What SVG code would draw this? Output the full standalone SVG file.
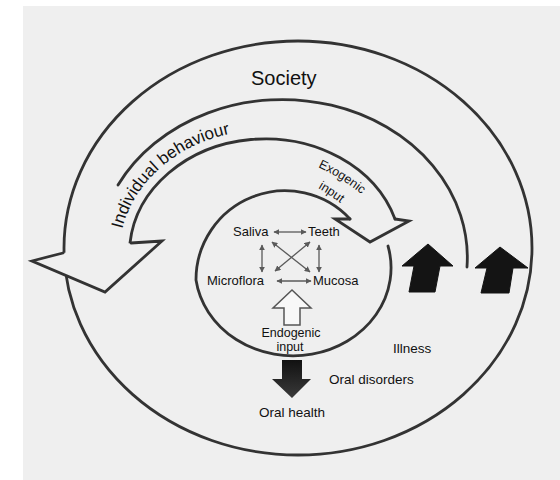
<svg xmlns="http://www.w3.org/2000/svg" width="560" height="480" viewBox="0 0 560 480">
<style>
.ln{fill:none;stroke:#333;stroke-width:2.8;stroke-linecap:round;stroke-linejoin:miter}
.t{font-family:"Liberation Sans",Arial,sans-serif;fill:#111}
.sm{fill:none;stroke:#5a5a5a;stroke-width:1.3;marker-start:url(#ah);marker-end:url(#ah)}
.blk{fill:#141414;stroke:#141414;stroke-width:1}
</style>
<defs>
<marker id="ah" viewBox="0 0 10 10" refX="9" refY="5" markerWidth="6" markerHeight="6" markerUnits="userSpaceOnUse" orient="auto-start-reverse">
<path d="M0,0 L10,5 L0,10 z" fill="#5a5a5a"/>
</marker>
<linearGradient id="dg" x1="0" y1="0" x2="0" y2="1">
<stop offset="0" stop-color="#111"/>
<stop offset="1" stop-color="#3a3a3a"/>
</linearGradient>
<path id="ibPath" d="M122.2,229 A146,125 0 0 1 376.8,174.7"/>
<path id="exPath" d="M318,167 A214,214 0 0 1 381,212"/>
<path id="inPath" d="M318,188 A214,214 0 0 1 364,224"/>
</defs>
<rect x="0" y="0" width="560" height="480" fill="#ffffff"/>
<rect x="23" y="6" width="537" height="474" fill="#efefef"/>

<g id="rings">
<ellipse id="society-ring" class="ln" cx="298" cy="248" rx="234" ry="207"/>
<path id="behaviour-outer" class="ln" d="M118,185 A185,158 0 0 1 467,267"/>
<path id="behaviour-inner" class="ln" d="M130,243 A136,115 0 0 1 395,219"/>
<path id="mouth-spiral" class="ln" d="M350,219 A89,89 0 0 0 196,280 A98,88 0 1 0 388,246"/>
</g>

<g id="connectors">
<g id="behaviour-arrowhead">
<polygon points="63,253 32,261 105,292 162,241 131,243" fill="#efefef"/>
<polyline class="ln" points="63,253 32,261 105,292 162,241 131,243"/>
</g>
<polyline id="exogenic-arrowhead" class="ln" points="350,219 335,219 370,242 409,221 395,219"/>
<polygon id="up-arrow-1" class="blk" points="428,244 453,266 440,266 435,292 409,292 414,266 402,266"/>
<polygon id="up-arrow-2" class="blk" points="500,247 528,268 513,268 509,293 481,293 487,268 475,268"/>
<polygon id="down-arrow" fill="url(#dg)" points="282,360 302,360 302,379 311,379 292,398 272,379 282,379"/>
<polygon id="endogenic-arrow" fill="#f8f8f8" stroke="#555" stroke-width="1.5" points="292,290 311,308 300,308 300,325 284,325 284,308 273,308"/>
<line class="sm" x1="274" y1="232" x2="306" y2="232"/>
<line class="sm" x1="277" y1="281" x2="311" y2="281"/>
<line class="sm" x1="262" y1="245" x2="262" y2="272"/>
<line class="sm" x1="319" y1="245" x2="319" y2="272"/>
<line class="sm" x1="272" y1="242" x2="310" y2="272"/>
<line class="sm" x1="310" y1="242" x2="275" y2="271"/>
</g>

<g id="society"><text class="t" x="251" y="85" font-size="20">Society</text></g>
<g id="individual-behaviour"><text class="t" font-size="17"><textPath href="#ibPath">Individual behaviour</textPath></text></g>
<g id="exogenic-input">
<text class="t" font-size="12.5"><textPath href="#exPath">Exogenic</textPath></text>
<text class="t" font-size="12.5"><textPath href="#inPath">input</textPath></text>
</g>
<g id="saliva"><text class="t" x="233" y="236" font-size="13">Saliva</text></g>
<g id="teeth"><text class="t" x="308" y="236" font-size="13">Teeth</text></g>
<g id="microflora"><text class="t" x="207" y="285" font-size="13">Microflora</text></g>
<g id="mucosa"><text class="t" x="313" y="285" font-size="13">Mucosa</text></g>
<g id="endogenic-input">
<text class="t" x="291" y="337" font-size="12.5" text-anchor="middle">Endogenic</text>
<text class="t" x="290" y="351" font-size="12.5" text-anchor="middle">input</text>
</g>
<g id="illness"><text class="t" x="393" y="353" font-size="13.5">Illness</text></g>
<g id="oral-disorders"><text class="t" x="329" y="384" font-size="13.5">Oral disorders</text></g>
<g id="oral-health"><text class="t" x="259" y="417" font-size="13.5">Oral health</text></g>
</svg>
